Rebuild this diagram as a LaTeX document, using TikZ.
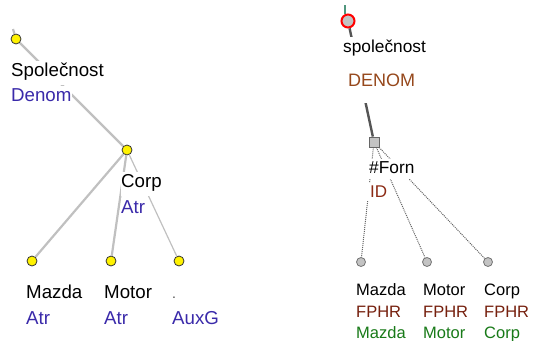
\documentclass[tikz,border=0pt]{standalone}
\usepackage{fontspec}
\setmainfont{Liberation Sans}
\definecolor{fnblue}{RGB}{58,42,170}
\definecolor{fnbrown}{RGB}{150,72,28}
\definecolor{fnid}{RGB}{140,42,20}
\definecolor{fnfphr}{RGB}{118,32,14}
\definecolor{fngreen}{RGB}{24,122,24}
\definecolor{edgegrey}{RGB}{192,192,192}
\definecolor{darkedge}{RGB}{85,85,85}
\definecolor{dotedge}{RGB}{100,100,100}
\definecolor{nodegrey}{RGB}{195,195,195}
\definecolor{tealedge}{RGB}{80,150,125}
\tikzset{
  ydot/.style={circle,draw=black!80,fill=yellow,line width=0.8pt,minimum size=10pt,inner sep=0pt},
  gdot/.style={circle,draw=gray!90!black,fill=nodegrey,line width=0.8pt,minimum size=9pt,inner sep=0pt},
  rroot/.style={circle,draw=red,fill=nodegrey,line width=2pt,minimum size=13pt,inner sep=0pt},
  sqnode/.style={rectangle,draw=gray!80!black,fill=nodegrey,line width=0.8pt,minimum size=10pt,inner sep=0pt},
  ledge/.style={draw=edgegrey,line width=2.2pt},
  ledgethin/.style={draw=edgegrey,line width=1.2pt},
  redge/.style={draw=darkedge,line width=2.4pt},
  dedge/.style={draw=dotedge,line width=1pt,dash pattern=on 1pt off 1pt},
  ltxt/.style={font=\fontsize{18.7}{22}\selectfont,fill=white,inner xsep=1pt,inner ysep=0pt,text height=15pt,text depth=9pt,anchor=base west},
  rtop/.style={font=\fontsize{17.3}{20}\selectfont,fill=white,inner xsep=1pt,inner ysep=0pt,text height=15pt,text depth=14pt,anchor=base west},
  rmid/.style={font=\fontsize{17.3}{20}\selectfont,fill=white,inner xsep=1pt,inner ysep=0pt,text height=14pt,text depth=6pt,anchor=base west},
  rleaf/.style={font=\fontsize{16.5}{19}\selectfont,fill=white,inner xsep=1pt,inner ysep=0pt,text height=12pt,text depth=5pt,anchor=base west},
}
\begin{document}
\begin{tikzpicture}[x=1pt,y=-1pt]
\useasboundingbox (0,0) rectangle (534,340);
% ---------- left tree ----------
\coordinate (ltop) at (13,29);
\node[ydot] (lroot) at (16,39) {};
\node[ydot] (lcorp) at (127,150) {};
\node[ydot] (lmazda) at (32,261) {};
\node[ydot] (lmotor) at (111,261) {};
\node[ydot] (lauxg) at (179,261) {};
\draw[ledge] (ltop) -- (lroot);
\draw[ledge] (lroot) -- (lcorp);
\draw[ledge] (lcorp) -- (lmazda);
\draw[ledge] (lcorp) -- (lmotor);
\draw[ledgethin] (lcorp) -- (lauxg);
\node[ltxt] (tspol) at (10,76) {Společnost};
\node[ltxt,text=fnblue] (tdenom) at (10,101) {Denom};
\node[ltxt,inner xsep=0pt] (tcorp) at (121,187) {Corp};
\node[ltxt,text=fnblue,inner xsep=0pt] (tcorpatr) at (121,213) {Atr};
\node[ltxt] (tmazda) at (25,298) {Mazda};
\node[ltxt,text=fnblue] (tmazdaatr) at (25,324) {Atr};
\node[ltxt] (tmotor) at (103,298) {Motor};
\node[ltxt,text=fnblue] (tmotoratr) at (103,324) {Atr};
\node[ltxt,text=black!70,font=\fontsize{14}{17}\selectfont] (tdot) at (171,298) {.};
\node[ltxt,text=fnblue] (tauxg) at (171,324) {AuxG};
% ---------- right tree ----------
\coordinate (rtopa) at (345,5);
\coordinate (rtopb) at (345,14);
\node[rroot] (rroot) at (348,21) {};
\node[sqnode] (rforn) at (374,142) {};
\node[gdot] (rmazda) at (361,262) {};
\node[gdot] (rmotor) at (427,262) {};
\node[gdot] (rcorp) at (488,262) {};
\draw[tealedge,line width=1.2pt] (rtopa) -- (rtopb);
\draw[redge] (rroot) -- (rforn);
\draw[dedge] (rforn) -- (rmazda);
\draw[dedge] (rforn) -- (rmotor);
\draw[dedge] (rforn) -- (rcorp);
\node[rtop] (tspol2) at (342,52) {společnost};
\node[rtop,text=fnbrown,font=\fontsize{18}{21}\selectfont,text height=21pt,text depth=17pt] (tDENOM) at (347,86) {DENOM};
\node[rmid] (tforn) at (368,173) {\#Forn};
\node[rmid,font=\fontsize{17}{20}\selectfont,text=fnid,text height=14pt,text depth=4pt,inner xsep=3pt] (tid) at (367,197) {ID};
\node[rleaf] (t2mazda) at (355,295) {Mazda};
\node[rleaf,text=fnfphr] (t2mazdaf) at (355,317) {FPHR};
\node[rleaf,text=fngreen] (t2mazdag) at (355,338) {Mazda};
\node[rleaf] (t2motor) at (422,295) {Motor};
\node[rleaf,text=fnfphr] (t2motorf) at (422,317) {FPHR};
\node[rleaf,text=fngreen] (t2motorg) at (422,338) {Motor};
\node[rleaf] (t2corp) at (483,295) {Corp};
\node[rleaf,text=fnfphr] (t2corpf) at (483,317) {FPHR};
\node[rleaf,text=fngreen] (t2corpg) at (483,338) {Corp};
\end{tikzpicture}
\end{document}
